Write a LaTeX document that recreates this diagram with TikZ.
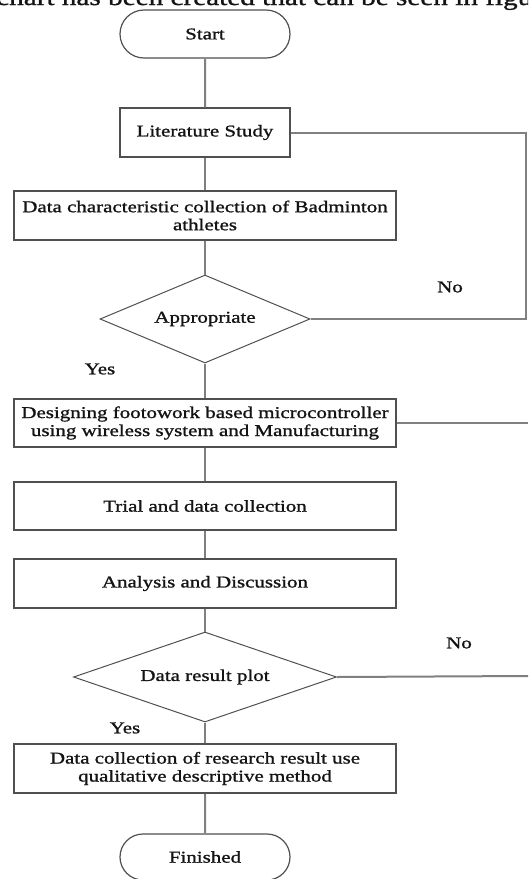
\documentclass[tikz,border=0pt]{standalone}
\usepackage{fontspec}
\setmainfont{Liberation Serif}[FakeStretch=1.27,FakeBold=1.2]
\usetikzlibrary{shapes.geometric,shapes.misc}
\definecolor{txt}{HTML}{141414}
\definecolor{edge}{HTML}{808080}
\definecolor{border}{HTML}{505050}
\tikzset{
  every node/.style={text=txt, font=\fontsize{16.5}{18}\selectfont},
  term/.style={rounded rectangle, draw=border, line width=1.2pt, minimum width=170pt, minimum height=48pt, inner sep=0pt},
  proc/.style={rectangle, draw=border, line width=1.5pt, minimum width=382pt, minimum height=49pt, inner sep=0pt, align=center},
  narrow/.style={proc, minimum width=170pt},
  decide/.style={diamond, draw=border, line width=1pt, inner sep=0pt, aspect=2.4},
  conn/.style={draw=edge, line width=2pt},
  lbl/.style={inner sep=1pt}
}
\begin{document}
\begin{tikzpicture}[x=1pt,y=-1pt]
\useasboundingbox (0,0) rectangle (528,879);
\begin{scope}
\clip (0,0) rectangle (528,879);
\node[overlay, anchor=base west, inner sep=0pt, font=\fontsize{23}{23}\selectfont] (cap) at (-4,5) {chart has been created that can be seen in figure};
\end{scope}
\node[term] (start) at (205,34) {Start};
\node[narrow] (lit) at (205,132.5) {Literature Study};
\node[proc] (data) at (205,215.5) {Data characteristic collection of Badminton\\athletes};
\node[decide, minimum width=210pt, minimum height=88pt] (appr) at (205,319) {Appropriate};
\node[proc, minimum height=48pt] (design) at (205,423) {Designing footowork based microcontroller\\using wireless system and Manufacturing};
\node[proc, minimum height=48pt] (trial) at (205,506) {Trial and data collection};
\node[proc] (anal) at (205,583.5) {Analysis and Discussion};
\node[decide, minimum width=263pt, minimum height=90pt] (plot) at (205,677) {Data result plot};
\node[proc] (coll) at (205,768.5) {Data collection of research result use\\qualitative descriptive method};
\node[term, minimum height=46pt] (fin) at (205,857) {Finished};

\coordinate (c1) at (526,133);
\coordinate (e2) at (528,423);
\coordinate (e3) at (528,676);

\draw[conn] (start) -- (lit);
\draw[conn] (lit) -- (data);
\draw[conn] (data) -- (appr);
\draw[conn] (appr) -- (design);
\draw[conn] (design) -- (trial);
\draw[conn] (trial) -- (anal);
\draw[conn] (anal) -- (plot);
\draw[conn] (plot) -- (coll);
\draw[conn] (coll) -- (fin);
\draw[conn] (appr.east) -| (c1) -- (lit.east |- c1);
\draw[conn] (design.east) -- (e2);
\draw[conn] (plot.east) -- (e3);

\node[lbl] (no1) at (450,287) {No};
\node[lbl] (yes1) at (100,369) {Yes};
\node[lbl] (no2) at (459,643) {No};
\node[lbl] (yes2) at (125,728) {Yes};
\end{tikzpicture}
\end{document}
